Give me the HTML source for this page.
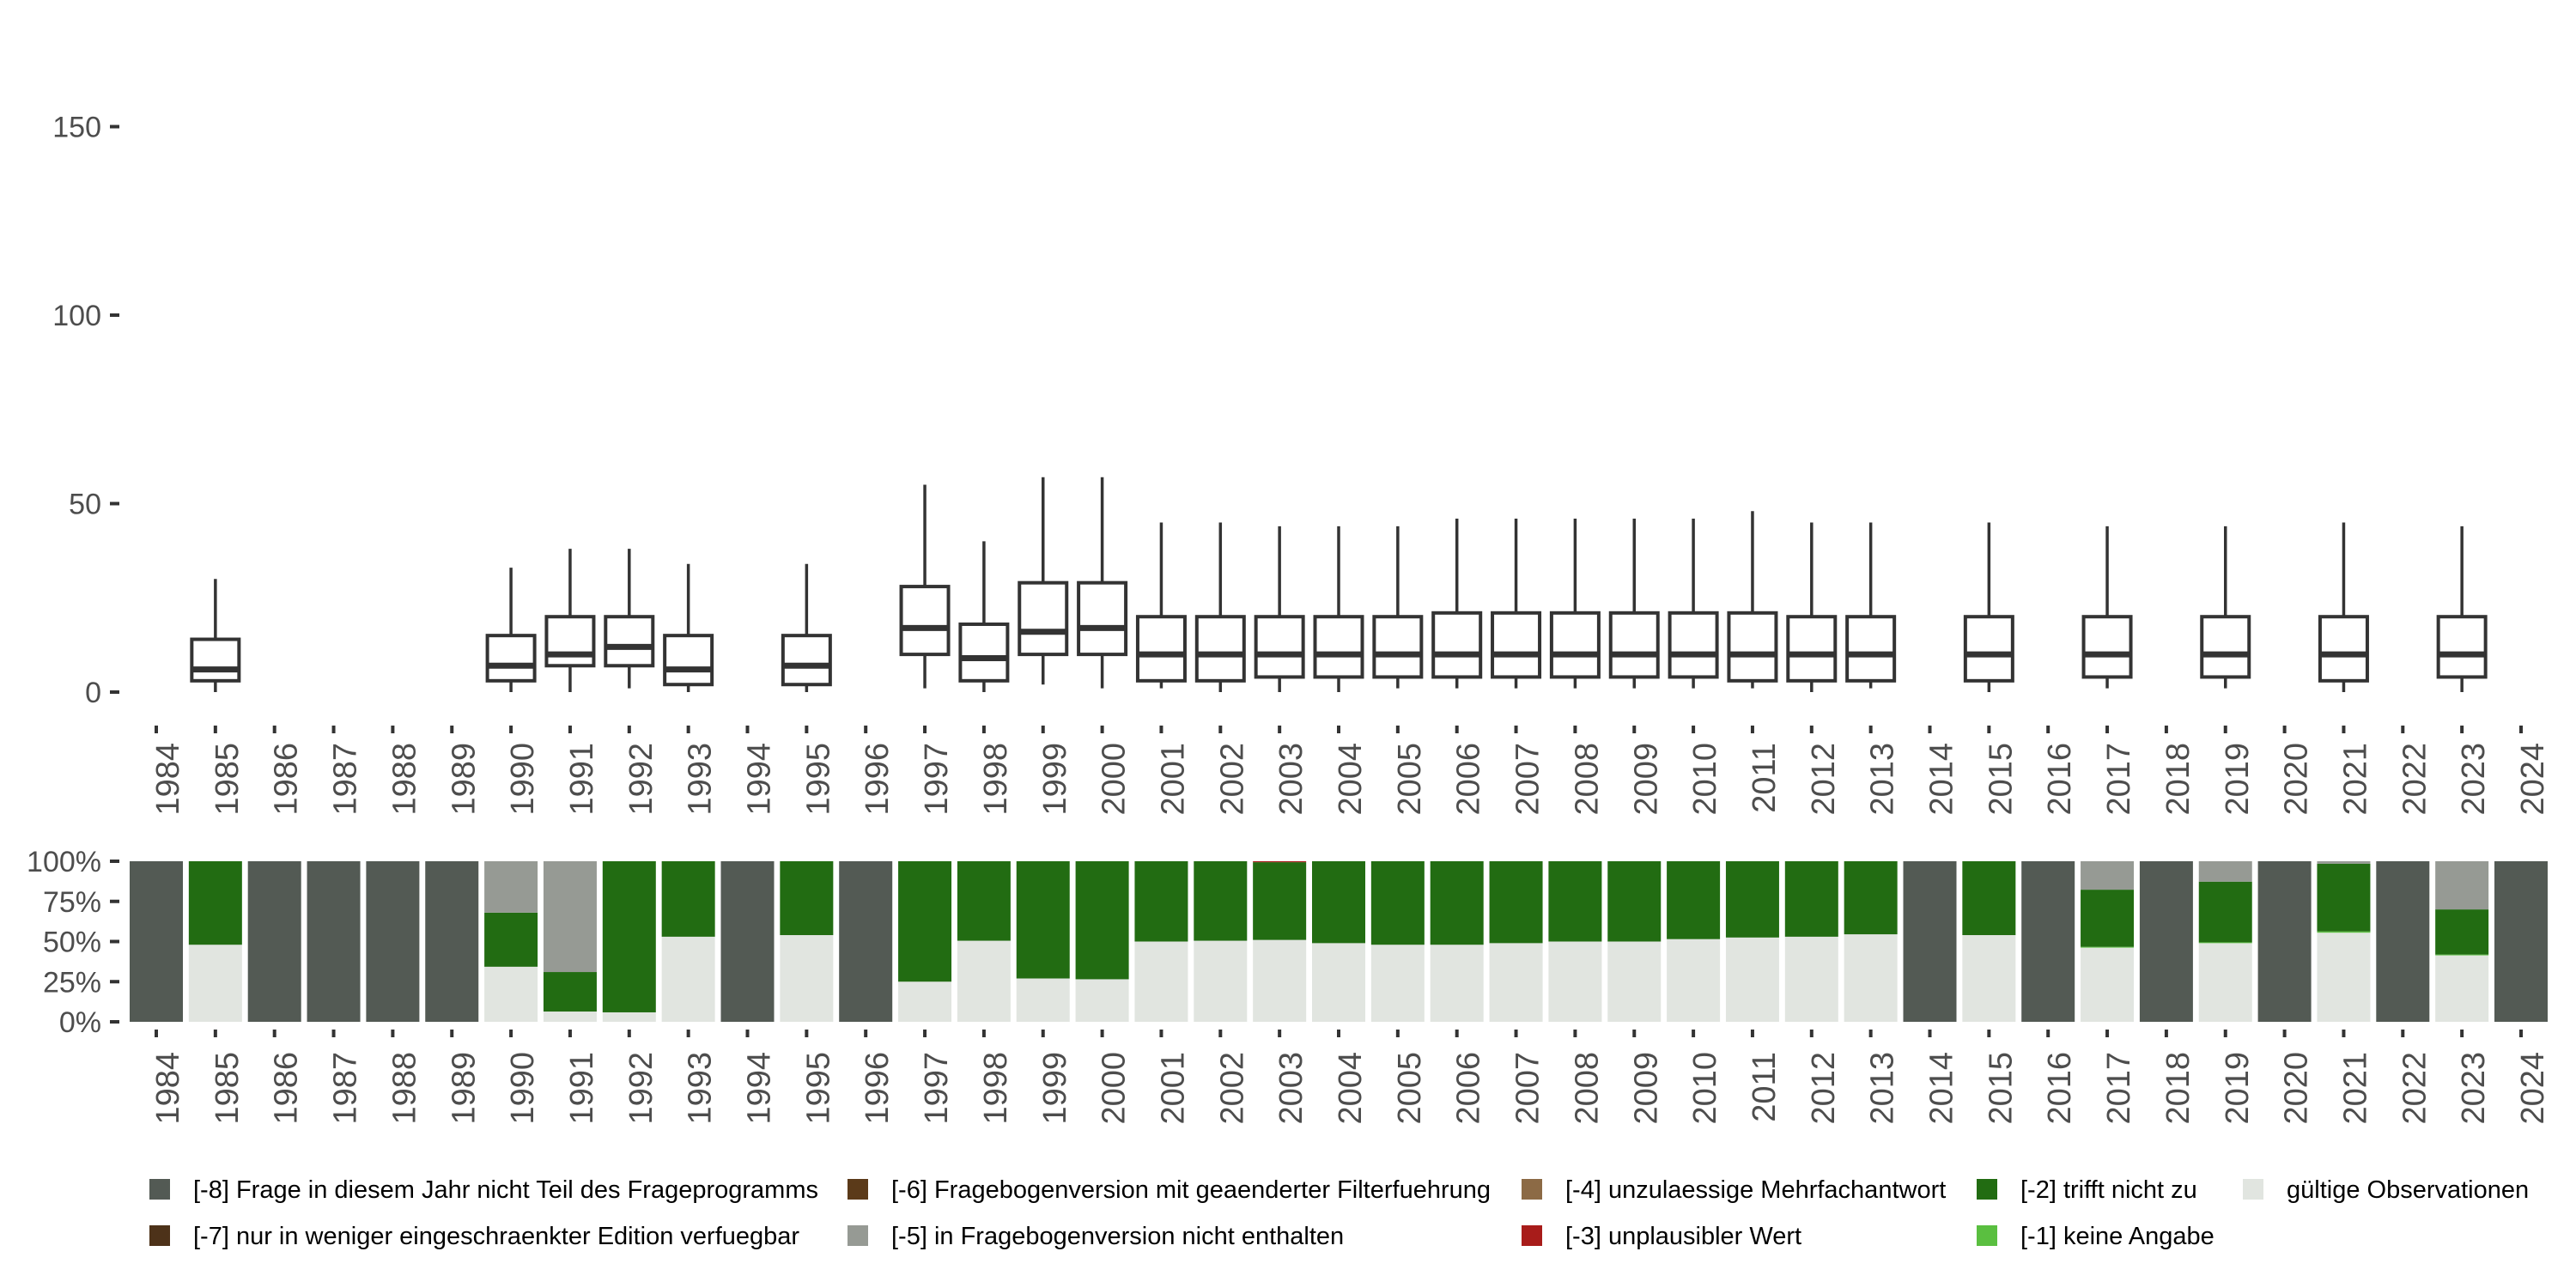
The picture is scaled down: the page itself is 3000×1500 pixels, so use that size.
<!DOCTYPE html>
<html><head><meta charset="utf-8"><style>
html,body{margin:0;padding:0;background:#fff;}
svg{display:block;font-family:"Liberation Sans",sans-serif;}
</style></head><body>
<svg id="chart" width="3000" height="1500" viewBox="0 0 3000 1500" xmlns="http://www.w3.org/2000/svg">
<g id="topPanel"></g>
<g id="botPanel"></g>
<g id="legendPanel"></g>
</svg>
<script>
const years = [1984,1985,1986,1987,1988,1989,1990,1991,1992,1993,1994,1995,1996,1997,1998,1999,2000,2001,2002,2003,2004,2005,2006,2007,2008,2009,2010,2011,2012,2013,2014,2015,2016,2017,2018,2019,2020,2021,2022,2023,2024];
const boxLow  = [null,0,null,null,null,null,0,0,1,0,null,0,null,1,0,2,1,1,0,0,0,1,1,1,1,1,1,1,0,1,null,0,null,1,null,1,null,0,null,0,null];
const boxQ1   = [null,3,null,null,null,null,3,7,7,2,null,2,null,10,3,10,10,3,3,4,4,4,4,4,4,4,4,3,3,3,null,3,null,4,null,4,null,3,null,4,null];
const boxMed  = [null,6,null,null,null,null,7,10,12,6,null,7,null,17,9,16,17,10,10,10,10,10,10,10,10,10,10,10,10,10,null,10,null,10,null,10,null,10,null,10,null];
const boxQ3   = [null,14,null,null,null,null,15,20,20,15,null,15,null,28,18,29,29,20,20,20,20,20,21,21,21,21,21,21,20,20,null,20,null,20,null,20,null,20,null,20,null];
const boxHigh = [null,30,null,null,null,null,33,38,38,34,null,34,null,55,40,57,57,45,45,44,44,44,46,46,46,46,46,48,45,45,null,45,null,44,null,44,null,45,null,44,null];
const topTicks = [0,50,100,150];
const botTicks = [0,0.25,0.5,0.75,1];
const botTickLabels = ["0%","25%","50%","75%","100%"];
const shValid = [0,.48,0,0,0,0,.343,.064,.059,.53,0,.54,0,.25,.505,.27,.265,.50,.505,.51,.49,.48,.48,.49,.50,.50,.515,.525,.53,.545,0,.54,0,.462,0,.49,0,.555,0,.414,0];
const shM1 = [0,0,0,0,0,0,0,0,0,0,0,0,0,0,0,0,0,0,0,0,0,0,0,0,0,0,0,0,0,0,0,0,0,.005,0,.005,0,.008,0,.005,0];
const shM2 = [0,.52,0,0,0,0,.337,.246,.941,.47,0,.46,0,.75,.495,.73,.735,.50,.495,.484,.51,.52,.52,.51,.50,.50,.485,.475,.47,.455,0,.46,0,.356,0,.378,0,.422,0,.281,0];
const shM3 = [0,0,0,0,0,0,0,0,0,0,0,0,0,0,0,0,0,0,0,.006,0,0,0,0,0,0,0,0,0,0,0,0,0,0,0,0,0,0,0,0,0];
const shM5 = [0,0,0,0,0,0,.32,.69,0,0,0,0,0,0,0,0,0,0,0,0,0,0,0,0,0,0,0,0,0,0,0,0,0,.177,0,.127,0,.015,0,.30,0];
const shM8 = [1,0,1,1,1,1,0,0,0,0,1,0,1,0,0,0,0,0,0,0,0,0,0,0,0,0,0,0,0,0,1,0,1,0,1,0,1,0,1,0,1];
const legendLabels = ["[-8] Frage in diesem Jahr nicht Teil des Frageprogramms","[-7] nur in weniger eingeschraenkter Edition verfuegbar","[-6] Fragebogenversion mit geaenderter Filterfuehrung","[-5] in Fragebogenversion nicht enthalten","[-4] unzulaessige Mehrfachantwort","[-3] unplausibler Wert","[-2] trifft nicht zu","[-1] keine Angabe","gültige Observationen"];
const legendColors = ["#535a54","#4d3219","#5b3a19","#969a94","#8c6a45","#a81c1a","#226c12","#5abf40","#e1e5e0"];

const NS="http://www.w3.org/2000/svg";
const xOf = y => 182 + (y-1984)*68.85;
const yTop = v => 806 - v*4.39;
const yBot = p => 1190 - p*187;
function mk(tag, attrs, parent){const e=document.createElementNS(NS,tag);for(const k in attrs)e.setAttribute(k,attrs[k]);parent.appendChild(e);return e;}
const topG=document.getElementById('topPanel'), botG=document.getElementById('botPanel'), legG=document.getElementById('legendPanel');
const txtCol="#4d4d4d", lineCol="#333333";

topTicks.forEach(t=>{
  const r=mk('rect',{x:128,y:yTop(t)-2,width:11,height:4,fill:lineCol},topG);
  
  
  const tx=mk('text',{x:118,y:yTop(t)+12,'text-anchor':'end','font-size':34,fill:txtCol},topG);
  
  
  tx.textContent=t;
});
years.forEach((yr,i)=>{
  if(boxMed[i]===null) return;
  const cx=xOf(yr), w=55;
  const g=mk('g',{},topG);
  
  
  mk('line',{x1:cx,x2:cx,y1:yTop(boxHigh[i]),y2:yTop(boxQ3[i]),stroke:lineCol,'stroke-width':3.5},g);
  mk('line',{x1:cx,x2:cx,y1:yTop(boxQ1[i]),y2:yTop(boxLow[i]),stroke:lineCol,'stroke-width':3.5},g);
  mk('rect',{x:cx-w/2,y:yTop(boxQ3[i]),width:w,height:yTop(boxQ1[i])-yTop(boxQ3[i]),fill:'#fff',stroke:lineCol,'stroke-width':4},g);
  mk('line',{x1:cx-w/2,x2:cx+w/2,y1:yTop(boxMed[i]),y2:yTop(boxMed[i]),stroke:lineCol,'stroke-width':7},g);
});
years.forEach(yr=>{
  const cx=xOf(yr);
  [[845,865,topG],[1199,1225,botG]].forEach(([ty,ly,par])=>{
    const r=mk('rect',{x:cx-2,y:ty,width:4,height:9,fill:lineCol},par);
    
    
    const t=mk('text',{x:0,y:0,'text-anchor':'end','font-size':38,fill:txtCol,transform:`translate(${cx+26},${ly}) rotate(-90)`},par);
    
    
    t.textContent=yr;
  });
});
botTicks.forEach((t,i)=>{
  const r=mk('rect',{x:128,y:yBot(t)-2,width:11,height:4,fill:lineCol},botG);
  
  
  const tx=mk('text',{x:118,y:yBot(t)+12,'text-anchor':'end','font-size':34,fill:txtCol},botG);
  
  
  tx.textContent=botTickLabels[i];
});
const series=[[shValid,"#e1e5e0","valid"],[shM1,"#5abf40","m1"],[shM2,"#226c12","m2"],[shM3,"#a81c1a","m3"],[shM5,"#969a94","m5"],[shM8,"#535a54","m8"]];
years.forEach((yr,i)=>{
  const tot=series.reduce((s,a)=>s+a[0][i],0)||1;
  let acc=0;
  const bw=62, cx=xOf(yr);
  series.forEach(([arr,col,nm])=>{
    const v=arr[i]/tot; if(v<=0) return;
    const r=mk('rect',{x:cx-bw/2,y:yBot(acc+v),width:bw,height:yBot(acc)-yBot(acc+v),fill:col},botG);
    
    
    acc+=v;
  });
});
const legPos=[[174,1385],[174,1439],[987,1385],[987,1439],[1772,1385],[1772,1439],[2302,1385],[2302,1439],[2612,1385]];
legendLabels.forEach((lab,i)=>{
  const [x,y]=legPos[i];
  const g=mk('g',{},legG);
  
  
  mk('rect',{x:x,y:y-12,width:24,height:24,fill:legendColors[i]},g);
  const t=mk('text',{x:x+51,y:y+10,'font-size':29,fill:'#000'},g);
  t.textContent=lab;
});
</script>
</body></html>
